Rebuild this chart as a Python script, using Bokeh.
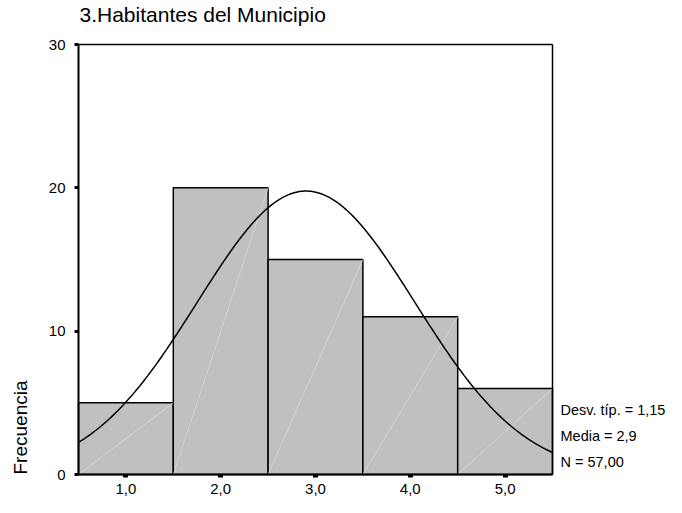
import math
from bokeh.plotting import figure
from bokeh.models import Range1d, FixedTicker, ColumnDataSource
from bokeh.core.properties import value
from bokeh.embed import file_html
from bokeh.resources import INLINE

# ---- data ----
title_text = "3.Habitantes del Municipio"
y_axis_title = "Frecuencia"
bin_centers = [1.0, 2.0, 3.0, 4.0, 5.0]
tick_labels = ["1,0", "2,0", "3,0", "4,0", "5,0"]
counts = [5, 20, 15, 11, 6]
y_ticks = [0, 10, 20, 30]
stat_sd = 1.15
stat_mean = 2.9
stat_n = 57
stat_texts = ["Desv. típ. = 1,15", "Media = 2,9", "N = 57,00"]
bin_width = 1.0

FONT = "Liberation Sans"

lefts = [c - bin_width / 2 for c in bin_centers]
rights = [c + bin_width / 2 for c in bin_centers]
x_lo, x_hi = lefts[0], rights[-1]
y_lo, y_hi = y_ticks[0], y_ticks[-1]

# ---- layout (pixels) ----
W, H = 666, 497
BOX_L, BOX_R = 78, 552      # histogram box edges on the canvas
BOX_T, BOX_B = 44, 474
px_x = (BOX_R - BOX_L) / (x_hi - x_lo)
px_y = (BOX_B - BOX_T) / (y_hi - y_lo)
x_start = x_lo - BOX_L / px_x
x_end = x_hi + (W - BOX_R) / px_x
y_start = y_lo - (H - BOX_B) / px_y
y_end = y_hi + BOX_T / px_y

p = figure(width=W, height=H, output_backend="svg", toolbar_location=None,
           x_range=Range1d(x_start, x_end), y_range=Range1d(y_start, y_end),
           min_border_left=0, min_border_right=0, min_border_top=0,
           min_border_bottom=0)
p.background_fill_color = "white"
p.border_fill_color = "white"
p.outline_line_color = None
p.xgrid.visible = False
p.ygrid.visible = False

# bars
src = ColumnDataSource(dict(left=lefts, right=rights, top=counts,
                            bottom=[0] * len(counts)))
p.quad(left="left", right="right", top="top", bottom="bottom", source=src,
       fill_color="#C0C0C0", line_color="black", line_width=1.5)
# faint diagonal seams inside bars
p.segment(x0="left", y0="bottom", x1="right", y1="top", source=src,
          line_color="#DADADA", line_width=0.8)

# normal curve from the displayed statistics
xs = [x_lo + i * (x_hi - x_lo) / 300 for i in range(301)]
ys = [stat_n * bin_width / (stat_sd * math.sqrt(2 * math.pi)) *
      math.exp(-0.5 * ((x - stat_mean) / stat_sd) ** 2) for x in xs]
p.line(xs, ys, line_color="black", line_width=1.5)

# box: top and right edges
p.segment(x0=[x_lo, x_hi], y0=[y_hi, y_lo], x1=[x_hi, x_hi], y1=[y_hi, y_hi],
          line_color="black", line_width=1.5)

# title (above the box, left aligned with it)
p.text(x=[x_lo], y=[y_hi + 30 / px_y], text=[title_text], x_offset=1,
       text_align="left", text_baseline="alphabetic", text_font=value(FONT),
       text_font_size="21px", text_color="#000000")

# stats text on the right
p.text(x=[x_hi] * 3, y=[65 / px_y, 39 / px_y, 13 / px_y], text=stat_texts,
       x_offset=8, text_align="left", text_baseline="middle",
       text_font=value(FONT), text_font_size="14.5px", text_color="#000000")

# y axis title, placed low like the original
p.text(x=[x_lo - (BOX_L - 20) / px_x], y=[47 / px_y], text=[y_axis_title],
       angle=math.pi / 2, text_align="center", text_baseline="middle",
       text_font=value(FONT), text_font_size="19px", text_color="#000000")

# axes
xa = p.xaxis[0]
xa.fixed_location = y_lo
xa.bounds = (x_lo, x_hi)
xa.ticker = FixedTicker(ticks=bin_centers)
xa.major_label_overrides = {c: t for c, t in zip(bin_centers, tick_labels)}
xa.minor_tick_line_color = None
xa.major_tick_in = 0
xa.major_tick_out = 3
xa.major_tick_line_width = 5
xa.major_tick_line_color = "black"
xa.axis_line_width = 2
xa.axis_line_color = "black"
xa.major_label_standoff = 6
xa.major_label_text_font = FONT
xa.major_label_text_font_size = "15px"
xa.major_label_text_color = "#000000"

ya = p.yaxis[0]
ya.fixed_location = x_lo
ya.bounds = (y_lo, y_hi)
ya.ticker = FixedTicker(ticks=y_ticks)
ya.minor_tick_line_color = None
ya.major_tick_in = 0
ya.major_tick_out = 4
ya.major_tick_line_width = 3
ya.major_tick_line_color = "black"
ya.axis_line_width = 2
ya.axis_line_color = "black"
ya.major_label_standoff = 9
ya.major_label_text_font = FONT
ya.major_label_text_font_size = "15px"
ya.major_label_text_color = "#000000"

open("out.html", "w").write(file_html(p, INLINE))
